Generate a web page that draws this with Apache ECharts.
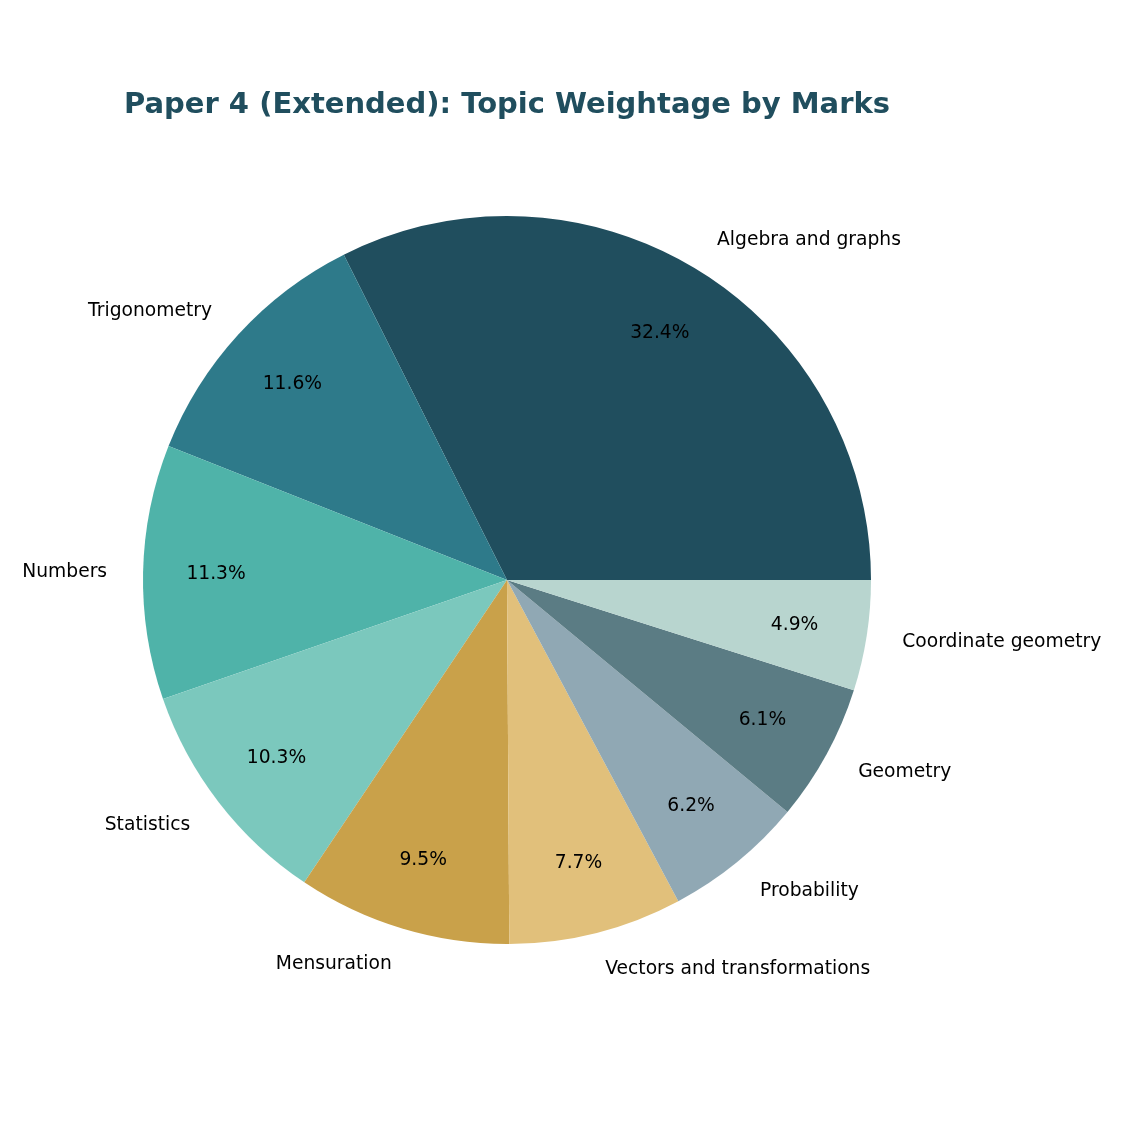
<!DOCTYPE html>
<html>
<head>
<meta charset="utf-8">
<script src="https://cdn.jsdelivr.net/npm/echarts@6/dist/echarts.min.js"></script>
<style>html,body{margin:0;padding:0;background:#fff}#c{width:1125px;height:1125px}</style>
</head>
<body>
<div id="c"></div>
<script>
const categories = ["Algebra and graphs","Trigonometry","Numbers","Statistics","Mensuration","Vectors and transformations","Probability","Geometry","Coordinate geometry"];
const shares = [32.4, 11.6, 11.3, 10.3, 9.5, 7.7, 6.2, 6.1, 4.9];
const colors = ["#204e5e","#2e7a8a","#4fb3a9","#7bc8bd","#c9a14a","#e1c07b","#90a8b4","#5b7c84","#b8d5cf"];

const CX = 507, CY = 580, R = 364;
const FONT = "DejaVu Sans";
const mainData = categories.map((n,i)=>({name:n, value:shares[i], itemStyle:{color:colors[i]}}));
const ghostData = categories.map((n,i)=>({name:n, value:shares[i], itemStyle:{color:'rgba(0,0,0,0)'}}));

const chart = echarts.init(document.getElementById('c'), null, {renderer:'canvas'});
chart.setOption({
  animation:false,
  backgroundColor:'#fff',
  title:{
    text:'Paper 4 (Extended): Topic Weightage by Marks',
    left:CX - 5, top:86, textAlign:'center',
    textStyle:{fontFamily:FONT, fontSize:29, fontWeight:'bold', color:'#204e5e'}
  },
  series:[
    {
      type:'pie', center:[CX,CY], radius:[0,R], startAngle:0, clockwise:false,
      data:mainData, label:{show:false}, labelLine:{show:false}, silent:true, z:1
    },
    {
      type:'pie', center:[CX,CY], radius:[0,576], startAngle:0, clockwise:false,
      data:ghostData, silent:true, z:3, labelLine:{show:false},
      label:{show:true, position:'inside', fontFamily:FONT, fontSize:18.7, color:'#000',
        formatter:p=>p.value.toFixed(1)+'%'},
      labelLayout:function(p){ return {dy:1}; }
    },
    {
      type:'pie', center:[CX,CY], radius:[0,794], startAngle:0, clockwise:false,
      data:ghostData, silent:true, z:3, labelLine:{show:false},
      label:{show:true, position:'inside', fontFamily:FONT, fontSize:18.7, color:'#000',
        formatter:p=>p.name},
      labelLayout:function(p){
        const r = p.labelRect;
        const x = r.x + r.width/2, y = r.y + r.height/2;
        return {x:x, y:y+1, align: x >= CX ? 'left' : 'right', verticalAlign:'middle'};
      }
    }
  ]
});
</script>
</body>
</html>
